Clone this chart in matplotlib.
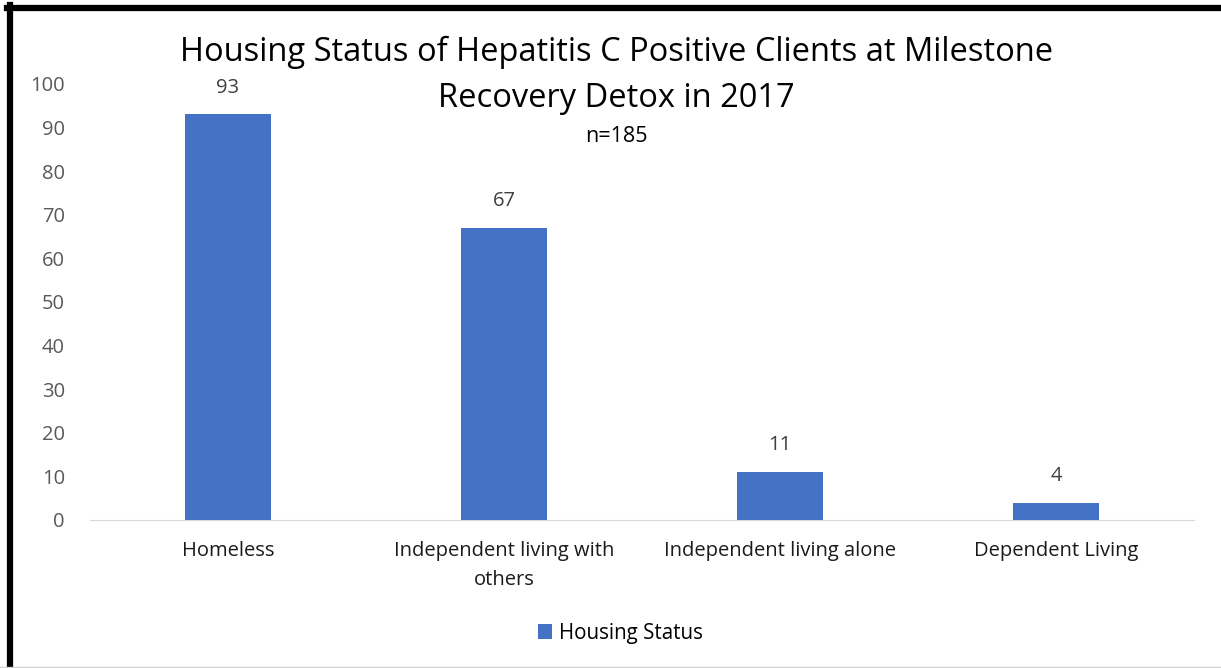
import matplotlib.pyplot as plt
from matplotlib.lines import Line2D

categories = ["Homeless", "Independent living with\nothers",
              "Independent living alone", "Dependent Living"]
counts = [93, 67, 11, 4]
series_name = "Housing Status"
title_lines = ["Housing Status of Hepatitis C Positive Clients at Milestone",
               "Recovery Detox in 2017"]
subtitle = "n=185"

plt.rcParams["font.family"] = ["Open Sans", "DejaVu Sans"]

fig = plt.figure(figsize=(12.21, 6.68), dpi=100)
ax = fig.add_axes([0.0737, 0.2216, 0.9043, 0.6527])

x = range(len(categories))
bars = ax.bar(x, counts, width=0.31, color="#4472C4", label=series_name, zorder=3)

for rect, v in zip(bars, counts):
    ax.annotate(str(v), (rect.get_x() + rect.get_width() / 2, v),
                xytext=(0, 12), textcoords="offset points",
                ha="center", va="bottom", fontsize=14.5, color="#404040")

ax.set_xlim(-0.5, 3.5)
ax.set_ylim(0, 100)
ax.set_yticks(range(0, 101, 10))
ax.set_xticks(list(x))
ax.set_xticklabels(categories, fontsize=14.5, color="#1a1a1a", linespacing=1.6)
ax.tick_params(axis="y", labelsize=14.5, labelcolor="#595959", length=0, pad=18)
ax.tick_params(axis="x", length=0, pad=15)

for s in ["top", "right", "left"]:
    ax.spines[s].set_visible(False)
ax.spines["bottom"].set_color("#d9d9d9")

# title as two separate lines (like the wrapped chart title)
fig.text(0.505, 0.922, title_lines[0], ha="center", va="center", fontsize=23.5, color="black")
fig.text(0.505, 0.853, title_lines[1], ha="center", va="center", fontsize=23.5, color="black")
fig.text(0.505, 0.795, subtitle, ha="center", va="center", fontsize=15.5, color="black")

fig.legend(handles=[bars], labels=[series_name], loc="center",
           bbox_to_anchor=(0.508, 0.052), frameon=False, fontsize=14.8,
           handlelength=0.7, handleheight=0.7, handletextpad=0.3)

# frame borders like the screenshot
fig.add_artist(Line2D([0.0082, 0.0082], [0.0, 0.9925], transform=fig.transFigure,
                      color="black", linewidth=4.5))
fig.add_artist(Line2D([0.0057, 1.0], [0.9885, 0.9885], transform=fig.transFigure,
                      color="black", linewidth=4.5))
fig.add_artist(Line2D([0.0, 1.0], [0.0015, 0.0015], transform=fig.transFigure,
                      color="#d0d0d0", linewidth=1))

fig.savefig("out.png", dpi=100, facecolor="white")
